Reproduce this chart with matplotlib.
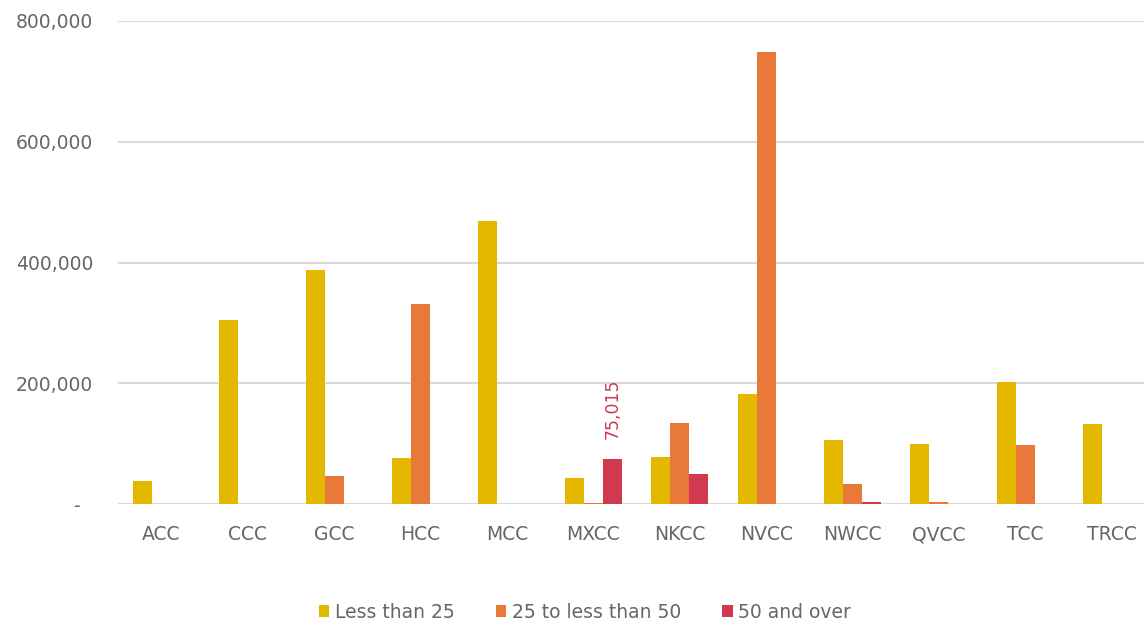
import numpy as np
import matplotlib.pyplot as plt
from matplotlib.ticker import FuncFormatter

categories = ['ACC', 'CCC', 'GCC', 'HCC', 'MCC', 'MXCC', 'NKCC', 'NVCC',
              'NWCC', 'QVCC', 'TCC', 'TRCC']
less_25 = [38000, 305000, 387000, 76000, 468000, 43000, 78000, 183000,
           106000, 100000, 202000, 132000]
from_25_to_50 = [0, 0, 46000, 331000, 0, 2000, 134000, 749000,
                 32500, 3000, 97500, 0]
over_50 = [0, 0, 0, 0, 0, 75015, 50000, 0, 3000, 0, 0, 0]
series_names = ['Less than 25', '25 to less than 50', '50 and over']
colors = ['#E5B800', '#E8793A', '#D0394F']

plt.rcParams['font.family'] = ['DejaVu Sans']
text_grey = '#666666'

fig = plt.figure(figsize=(11.44, 6.25), dpi=100)
ax = fig.add_axes([118 / 1144, 121 / 625, 1037 / 1144, 483 / 625])

x = np.arange(len(categories))
w = 0.22
for i, (vals, name) in enumerate(zip([less_25, from_25_to_50, over_50], series_names)):
    ax.bar(x + (i - 1) * w, vals, width=w, color=colors[i], label=name, zorder=3)

# data label for MXCC 50 and over
mx = categories.index('MXCC')
ax.annotate('{:,}'.format(over_50[mx]), (x[mx] + w, over_50[mx]),
            xytext=(0, 14), textcoords='offset points', rotation=90,
            ha='center', va='bottom', color=colors[2], fontsize=12.5)

ax.set_xlim(-0.5, len(categories) - 0.5)
ax.set_ylim(0, 800000)
ax.set_yticks([0, 200000, 400000, 600000, 800000])
ax.yaxis.set_major_formatter(FuncFormatter(lambda v, p: '-  ' if v == 0 else '{:,.0f}'.format(v)))
ax.set_xticks(x)
ax.set_xticklabels(categories)
ax.grid(axis='y', color='#d9d9d9', linewidth=1.5, zorder=0)
for s in ax.spines.values():
    s.set_visible(False)
ax.tick_params(axis='both', length=0, colors=text_grey)
ax.tick_params(axis='y', pad=18, labelsize=13.5)
ax.tick_params(axis='x', pad=26, labelsize=13.5)
for t in ax.get_xticklabels():
    t.set_verticalalignment('baseline')

leg = fig.legend(loc='center', bbox_to_anchor=(585 / 1144, 1 - 612 / 625), ncol=3,
                 frameon=False, fontsize=13.5, handlelength=0.55, handleheight=0.55,
                 handletextpad=0.3, columnspacing=2.2)
for t in leg.get_texts():
    t.set_color(text_grey)

plt.savefig('out.png', dpi=100)
